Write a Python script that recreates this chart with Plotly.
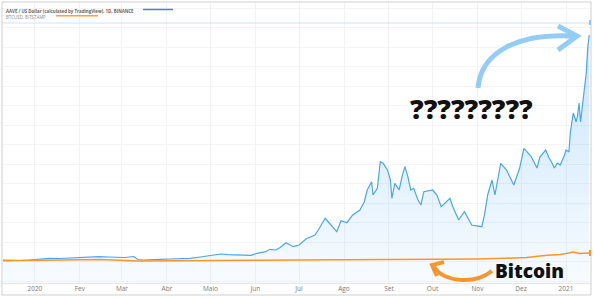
import plotly.graph_objects as go

# ---------------- data (arbitrary price units) ----------------
aave_dates = [
    "2019-12-10", "2019-12-16", "2019-12-22", "2019-12-28", "2020-01-02", "2020-01-06",
    "2020-01-11", "2020-01-18", "2020-01-25", "2020-02-01", "2020-02-07", "2020-02-14",
    "2020-02-21", "2020-02-27", "2020-03-03", "2020-03-09", "2020-03-12", "2020-03-16",
    "2020-03-20", "2020-03-27", "2020-04-03", "2020-04-10", "2020-04-17", "2020-04-24",
    "2020-05-01", "2020-05-08", "2020-05-13", "2020-05-18", "2020-05-24", "2020-05-29",
    "2020-06-02", "2020-06-08", "2020-06-11", "2020-06-15", "2020-06-18", "2020-06-22",
    "2020-06-27", "2020-07-01", "2020-07-06", "2020-07-12", "2020-07-15", "2020-07-19",
    "2020-07-23", "2020-07-27", "2020-07-30", "2020-08-03", "2020-08-07", "2020-08-12",
    "2020-08-15", "2020-08-17", "2020-08-20", "2020-08-21", "2020-08-24", "2020-08-26",
    "2020-08-28", "2020-08-31", "2020-09-02", "2020-09-03", "2020-09-05", "2020-09-08",
    "2020-09-10", "2020-09-12", "2020-09-14", "2020-09-16", "2020-09-18", "2020-09-21",
    "2020-09-23", "2020-09-25", "2020-10-01", "2020-10-04", "2020-10-07", "2020-10-13",
    "2020-10-15", "2020-10-19", "2020-10-23", "2020-10-28", "2020-11-04", "2020-11-06",
    "2020-11-08", "2020-11-11", "2020-11-13", "2020-11-17", "2020-11-21", "2020-11-26",
    "2020-11-30", "2020-12-03", "2020-12-05", "2020-12-08", "2020-12-12", "2020-12-14",
    "2020-12-18", "2020-12-20", "2020-12-22", "2020-12-24", "2020-12-26", "2020-12-28",
    "2020-12-31", "2021-01-01", "2021-01-03", "2021-01-04", "2021-01-06", "2021-01-08",
    "2021-01-09", "2021-01-10", "2021-01-11", "2021-01-12", "2021-01-14", "2021-01-15",
    "2021-01-16", "2021-01-17",
]
aave_values = [
    23.0, 22.5, 22.5, 23.0, 23.7, 24.0,
    24.7, 24.5, 25.0, 25.2, 25.7, 26.3,
    26.0, 25.7, 25.5, 26.5, 23.5, 23.0,
    23.5, 23.7, 24.0, 24.2, 24.7, 26.0,
    27.3, 29.0, 28.3, 28.3, 28.0, 27.7,
    29.7, 31.3, 33.7, 33.0, 35.5, 40.3,
    36.3, 38.0, 44.3, 48.0, 54.7, 64.7,
    58.0, 51.3, 62.3, 60.3, 68.0, 73.0,
    81.3, 93.0, 101.3, 88.0, 94.7, 121.3,
    119.7, 113.0, 103.0, 84.7, 99.7, 93.0,
    106.3, 116.3, 106.3, 93.0, 94.7, 83.0,
    78.0, 91.3, 93.0, 88.0, 76.3, 84.7,
    76.3, 63.0, 71.3, 58.0, 56.3, 69.7,
    88.0, 103.0, 88.0, 119.7, 113.0, 98.0,
    114.7, 134.7, 131.3, 126.3, 115.0, 126.0,
    133.0, 126.0, 121.0, 115.0, 120.0, 118.0,
    128.0, 133.0, 131.0, 151.0, 170.0, 161.0,
    168.0, 180.0, 161.0, 175.0, 201.0, 211.0,
    236.0, 248.0,
]
aave_high = 260.0

btc_dates = [
    "2019-12-10", "2020-01-15", "2020-02-15", "2020-03-12", "2020-04-15", "2020-06-01",
    "2020-08-01", "2020-09-01", "2020-10-01", "2020-11-01", "2020-11-20", "2020-12-05",
    "2020-12-17", "2020-12-28", "2021-01-03", "2021-01-06", "2021-01-10", "2021-01-14",
    "2021-01-17",
]
btc_values = [
    22.3, 22.7, 23.5, 22.0, 22.5, 22.8,
    23.2, 23.5, 23.3, 24.0, 24.7, 25.5,
    27.5, 28.5, 30.0, 31.0, 29.5, 30.0,
    30.0,
]

tick_dates = [
    "2020-01-01", "2020-02-01", "2020-03-01", "2020-04-01", "2020-05-01", "2020-06-01",
    "2020-07-01", "2020-08-01", "2020-09-01", "2020-10-01", "2020-11-01", "2020-12-01",
    "2021-01-01",
]
tick_labels = ["2020", "Fev", "Mar", "Abr", "Maio", "Jun", "Jul", "Ago", "Set", "Out",
               "Nov", "Dez", "2021"]

legend_aave = "AAVE / US Dollar (calculated by TradingView), 1D, BINANCE"
legend_btc = "BTCUSD, BITSTAMP"

# ---------------- geometry helpers ----------------
W, H = 594, 299
L, R, T, B = 2, 3, 3, 16
PW, PH = W - L - R, H - T - B


def px(x):
    return (x - L) / PW


def py(y):
    return (H - B - y) / PH


BLUE = "#4aa5f3"
ORANGE = "#f7962e"

fig = go.Figure()

fig.add_trace(go.Scatter(
    x=aave_dates, y=aave_values, mode="lines",
    line=dict(color=BLUE, width=1.2),
    fill="tozeroy",
    fillgradient=dict(type="vertical",
                      colorscale=[[0, "rgba(66,165,245,0.04)"], [1, "rgba(66,165,245,0.30)"]],
                      start=0, stop=aave_high),
    hoverinfo="skip", showlegend=False,
))
fig.add_trace(go.Scatter(
    x=btc_dates, y=btc_values, mode="lines",
    line=dict(color=ORANGE, width=1.6),
    hoverinfo="skip", showlegend=False,
))

shapes = []
# high level line
shapes.append(dict(type="line", xref="paper", yref="y", x0=0, x1=1, y0=aave_high, y1=aave_high,
                   line=dict(color="#cfe3f7", width=1)))
# frame
shapes.append(dict(type="rect", xref="paper", yref="paper", x0=px(2), x1=px(591), y0=py(295), y1=py(2),
                   line=dict(color="#cfcfcf", width=1), layer="above"))
shapes.append(dict(type="line", xref="paper", yref="paper", x0=px(2), x1=px(591), y0=py(283.5), y1=py(283.5),
                   line=dict(color="#e6e6e6", width=1)))
# legend line swatches
shapes.append(dict(type="line", xref="paper", yref="paper", x0=px(143), x1=px(173), y0=py(9.5), y1=py(9.5),
                   line=dict(color="#4a7fd6", width=1.5)))
shapes.append(dict(type="line", xref="paper", yref="paper", x0=px(56), x1=px(98), y0=py(15.7), y1=py(15.7),
                   line=dict(color="#f7a04a", width=1.5)))
# end markers
shapes.append(dict(type="rect", xref="paper", yref="paper", x0=px(589), x1=px(591), y0=py(25), y1=py(20),
                   line=dict(width=0), fillcolor="#8cc4f2"))
shapes.append(dict(type="rect", xref="paper", yref="paper", x0=px(589), x1=px(591), y0=py(256), y1=py(250),
                   line=dict(width=0), fillcolor=ORANGE))


def path(points, cmd):
    s = ""
    for c, pts in zip(cmd, points):
        s += c + " " + " ".join(f"{px(a):.5f},{py(b):.5f}" for a, b in pts) + " "
    return s.strip()


# blue curved arrow
shapes.append(dict(type="path", xref="paper", yref="paper",
                   path=path([[(478, 88)], [(481, 52), (518, 33), (572, 36)]], ["M", "C"]),
                   line=dict(color="#93cdf6", width=5)))
shapes.append(dict(type="path", xref="paper", yref="paper",
                   path=path([[(558, 26)], [(577, 36)], [(558, 50)]], ["M", "L", "L"]),
                   line=dict(color="#93cdf6", width=5)))
# orange curved arrow
shapes.append(dict(type="path", xref="paper", yref="paper",
                   path=path([[(492, 271)], [(474, 285), (444, 282), (434, 267)]], ["M", "C"]),
                   line=dict(color=ORANGE, width=4)))
shapes.append(dict(type="path", xref="paper", yref="paper",
                   path=path([[(444, 262)], [(432, 265)], [(437, 276)]], ["M", "L", "L"]),
                   line=dict(color=ORANGE, width=4)))

annotations = [
    dict(xref="paper", yref="paper", x=px(4), y=py(6.2), xanchor="left", yanchor="top",
         text=f"<b>{legend_aave}</b><br><span style='color:#8a8a8a'>{legend_btc}</span>",
         showarrow=False, align="left",
         font=dict(family="Open Sans", size=4.4, color="#666666")),
    dict(xref="paper", yref="paper", x=px(471), y=py(108), xanchor="center", yanchor="middle",
         text="?????????", showarrow=False,
         font=dict(family="Open Sans", size=27, color="#111111", weight=800)),
    dict(xref="paper", yref="paper", x=px(529), y=py(271.2), xanchor="center", yanchor="middle",
         text="Bitcoin", showarrow=False,
         font=dict(family="Open Sans", size=19, color="#111111", weight=800)),
]

fig.update_layout(
    width=W, height=H,
    margin=dict(l=L, r=R, t=T, b=B, autoexpand=False),
    paper_bgcolor="white", plot_bgcolor="white",
    shapes=shapes, annotations=annotations,
    showlegend=False,
    xaxis=dict(type="date", range=["2019-12-09 08:00", "2021-01-18 05:00"],
               tickvals=tick_dates, ticktext=tick_labels, ticks="",
               tickfont=dict(family="Open Sans", size=6.5, color="#7a7a7a"),
               showgrid=True, gridcolor="#f2f2f2", gridwidth=1, zeroline=False,
               showline=False, fixedrange=True),
    yaxis=dict(range=[0, PH], tick0=2, dtick=19.5, showticklabels=False, ticks="",
               showgrid=True, gridcolor="#f4f4f4", gridwidth=1, zeroline=False,
               showline=False, fixedrange=True),
)

fig.write_html("out.html")
